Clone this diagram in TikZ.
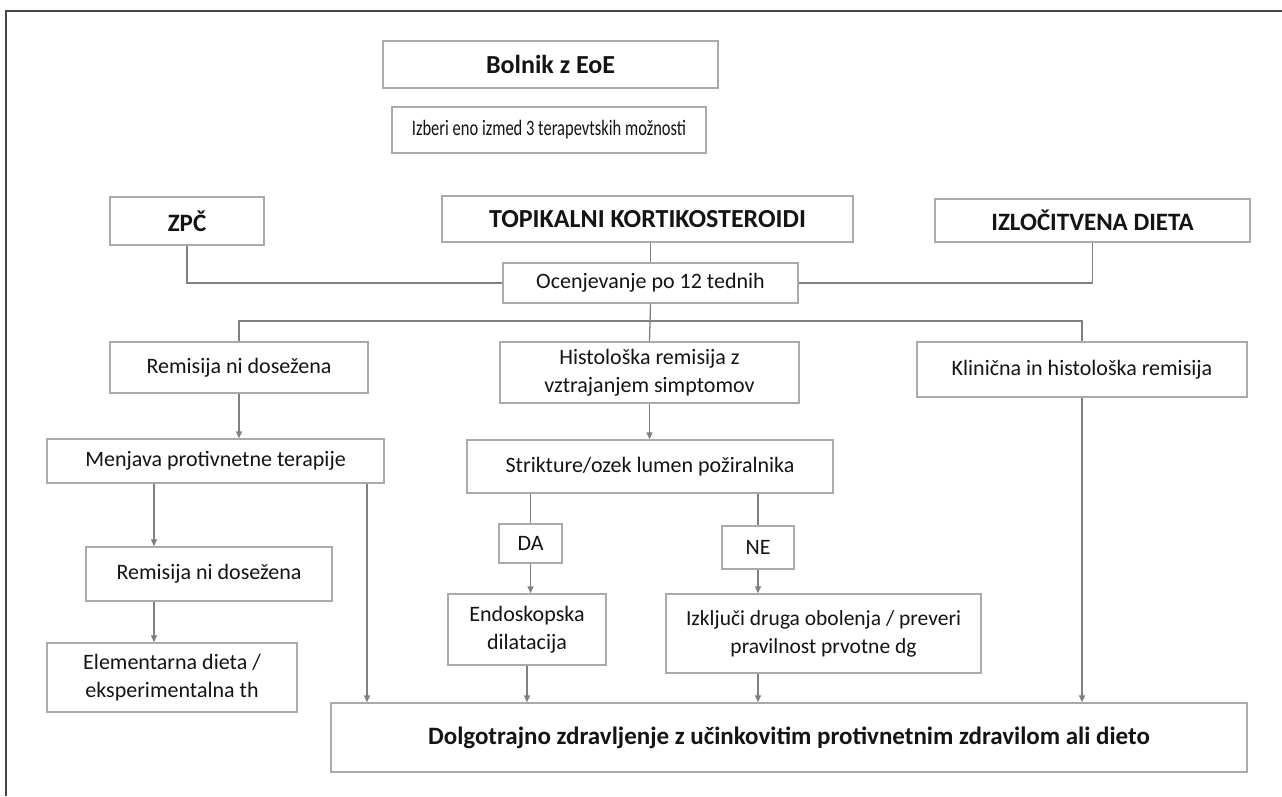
\documentclass[tikz,border=0pt]{standalone}
\usepackage{fontspec}
\setmainfont{Carlito}
\usepackage{xcolor,graphicx}
\definecolor{boxgray}{RGB}{170,170,170}
\definecolor{linegray}{RGB}{128,128,128}
\definecolor{framegray}{RGB}{70,70,70}
\definecolor{txtdark}{RGB}{20,20,20}
\usetikzlibrary{arrows.meta,positioning,calc}

\begin{document}
\begin{tikzpicture}[x=1pt,y=-1pt,
  box/.style={draw=boxgray,line width=1.4pt,fill=white,inner sep=0pt,align=center,text=txtdark,font=\fontsize{22}{28}\selectfont},
  hbox/.style={box,font=\fontsize{25}{30}\selectfont\bfseries},
  link/.style={draw=linegray,line width=1.3pt},
  arr/.style={link,-{Triangle[length=7pt,width=6pt]}}]
  \useasboundingbox (0,0) rectangle (1282,796);
  \draw[framegray,line width=1.4pt] (6,796) -- (6,11) -- (1282,11);

  \node[hbox,minimum width=335pt,minimum height=47pt,font=\fontsize{26}{30}\selectfont\bfseries] (bolnik) at (550.5,64.5) {Bolnik z EoE};
  \node[box,minimum width=314pt,minimum height=46pt] (izberi) at (549,130) {\scalebox{0.75}[1]{Izberi eno izmed 3 terapevtskih možnosti}};
  \node[hbox,minimum width=154pt,minimum height=48pt] (zpc) at (187,221) {ZPČ};
  \node[hbox,minimum width=411pt,minimum height=46pt,font=\fontsize{26}{30}\selectfont\bfseries] (topik) at (647.5,219) {TOPIKALNI KORTIKOSTEROIDI};
  \node[hbox,minimum width=315pt,minimum height=43pt] (dieta) at (1092.5,220.5) {IZLOČITVENA DIETA};
  \node[box,minimum width=295pt,minimum height=40pt] (ocen) at (650.5,283) {Ocenjevanje po 12 tednih};

  \node[box,minimum width=258pt,minimum height=51pt] (remis1) at (239,367.5) {Remisija ni dosežena};
  \node[box,minimum width=299pt,minimum height=61pt] (histo) at (649.5,372.5) {Histološka remisija z\\vztrajanjem simptomov};
  \node[box,minimum width=330pt,minimum height=55pt] (klin) at (1082,369.5) {Klinična in histološka remisija};

  \node[box,minimum width=337pt,minimum height=44pt] (menj) at (215.5,461) {Menjava protivnetne terapije};
  \node[box,minimum width=366pt,minimum height=53pt] (strik) at (650,466.5) {Strikture/ozek lumen požiralnika};
  \node[box,minimum width=246pt,minimum height=54pt] (remis2) at (209,574) {Remisija ni dosežena};
  \node[box,minimum width=63pt,minimum height=39pt] (da) at (530.5,543.5) {DA};
  \node[box,minimum width=72pt,minimum height=43pt] (ne) at (758,547.5) {NE};
  \node[box,minimum width=158pt,minimum height=71pt] (endo) at (527,629.5) {Endoskopska\\dilatacija};
  \node[box,minimum width=315pt,minimum height=79pt,font=\fontsize{21.5}{28}\selectfont] (izklj) at (823.5,633.5) {Izključi druga obolenja / preveri\\pravilnost prvotne dg};
  \node[box,minimum width=250pt,minimum height=69pt] (elem) at (172,677.5) {Elementarna dieta /\\eksperimentalna th};
  \node[hbox,minimum width=916pt,minimum height=69pt] (dolgo) at (789,737.5) {Dolgotrajno zdravljenje z učinkovitim protivnetnim zdravilom ali dieto};

  \coordinate (bar) at (650,321);
  \coordinate (lcol) at (154,0);
  \coordinate (rcol) at (367,0);

  \draw[link] (zpc.south) |- (ocen.west);
  \draw[link] (ocen.north |- topik.south) -- (ocen.north);
  \draw[link] (dieta.south) |- (ocen.east);
  \draw[link] (ocen.south) -- (histo.north);
  \draw[link] (remis1.north) |- (bar) -| (klin.north);

  \draw[arr] (remis1.south) -- (remis1.south |- menj.north);
  \draw[arr] (histo.south) -- (histo.south |- strik.north);
  \draw[arr] (menj.south -| lcol) -- (remis2.north -| lcol);
  \draw[arr] (remis2.south -| lcol) -- (elem.north -| lcol);
  \draw[arr] (menj.south -| rcol) -- (dolgo.north -| rcol);

  \draw[link] (da.north |- strik.south) -- (da.north);
  \draw[arr] (da.south) -- (da.south |- endo.north);
  \draw[arr] (endo.south) -- (endo.south |- dolgo.north);
  \draw[link] (ne.north |- strik.south) -- (ne.north);
  \draw[arr] (ne.south) -- (ne.south |- izklj.north);
  \draw[arr] (ne.south |- izklj.south) -- (ne.south |- dolgo.north);
  \draw[arr] (klin.south) -- (klin.south |- dolgo.north);
\end{tikzpicture}
\end{document}
